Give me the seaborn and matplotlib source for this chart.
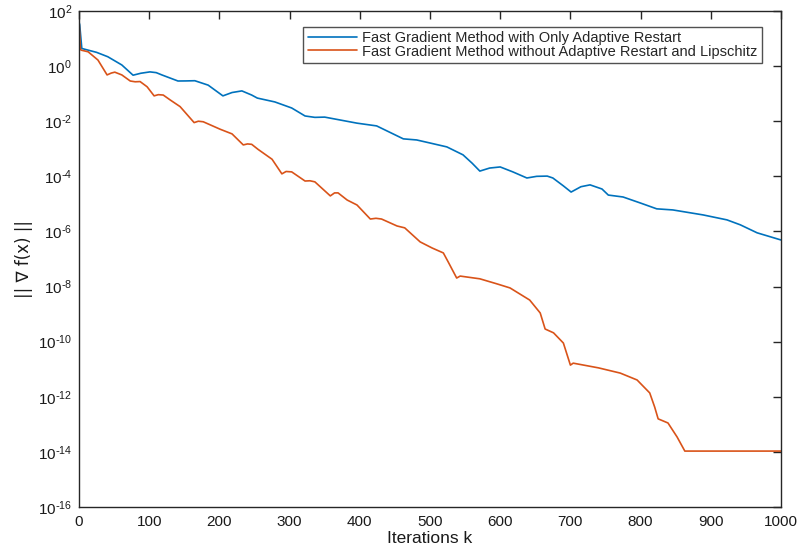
import matplotlib
matplotlib.use("Agg")
import matplotlib.pyplot as plt
import numpy as np
import pandas as pd
import seaborn as sns

# Gradient norm per iteration, fast gradient method with adaptive restart only
iters_restart = [0, 1, 4, 8.5, 25, 41, 61, 77, 88, 101, 110, 118, 141, 152, 165, 184, 205,
                 218, 232, 246, 254, 279, 303, 322, 336, 350, 396, 424, 462, 481, 500, 524,
                 547, 560, 571, 585, 600, 618, 638, 652, 667, 675, 690, 701, 715, 728, 745,
                 754, 775, 800, 823, 846, 889, 923, 942, 966, 1000]
grad_restart = [40.0, 31.6, 4.37, 4.07, 3.16, 2.19, 1.10, 0.468, 0.55, 0.617, 0.58, 0.479,
                0.288, 0.29, 0.295, 0.204, 0.0832, 0.11, 0.126, 0.0891, 0.0692, 0.0501,
                0.0302, 0.0155, 0.0138, 0.0141, 8.51e-3, 6.76e-3, 2.29e-3, 2.09e-3, 1.62e-3,
                1.17e-3, 6.03e-4, 3.0e-4, 1.55e-4, 2.0e-4, 2.19e-4, 1.45e-4, 8.71e-5,
                1.0e-4, 1.02e-4, 8.71e-5, 4.5e-5, 2.69e-5, 4.2e-5, 4.90e-5, 3.47e-5,
                2.09e-5, 1.78e-5, 1.07e-5, 6.61e-6, 6.03e-6, 3.98e-6, 2.63e-6, 1.74e-6,
                8.91e-7, 4.90e-7]

# Gradient norm per iteration, without adaptive restart and Lipschitz estimate
iters_plain = [0, 2, 3, 13, 27, 40, 46, 51, 61, 73, 80, 87, 97, 107, 113, 120, 130, 144,
               164, 170, 177, 201, 218, 234, 240, 246, 255, 275, 289, 295, 303, 322, 329,
               336, 358, 364, 369, 382, 396, 415, 423, 431, 453, 464, 486, 503, 519, 526,
               538, 543, 571, 595, 614, 642, 657, 664, 676, 690, 700, 704, 740, 771, 795,
               813, 820, 825, 839, 852, 863, 1000]
grad_plain = [46.8, 4.17, 3.80, 3.31, 1.66, 0.479, 0.56, 0.603, 0.479, 0.288, 0.27, 0.275,
              0.178, 0.0832, 0.092, 0.0891, 0.0589, 0.0339, 8.91e-3, 1.0e-2, 9.55e-3,
              5.13e-3, 3.47e-3, 1.38e-3, 1.5e-3, 1.45e-3, 9.55e-4, 4.17e-4, 1.23e-4,
              1.5e-4, 1.45e-4, 6.76e-5, 6.9e-5, 6.31e-5, 1.95e-5, 2.5e-5, 2.51e-5,
              1.38e-5, 9.12e-6, 2.82e-6, 3.0e-6, 2.82e-6, 1.58e-6, 1.35e-6, 4.17e-7,
              2.51e-7, 1.66e-7, 7.76e-8, 2.04e-8, 2.40e-8, 1.91e-8, 1.26e-8, 8.91e-9,
              3.24e-9, 1.10e-9, 2.88e-10, 2.09e-10, 8.91e-11, 1.41e-11, 1.66e-11,
              1.12e-11, 7.24e-12, 4.07e-12, 1.38e-12, 4.27e-13, 1.58e-13, 1.12e-13,
              3.47e-14, 1.07e-14, 1.07e-14]

labels = ["Fast Gradient Method with Only Adaptive Restart",
          "Fast Gradient Method without Adaptive Restart and Lipschitz"]
colors = ["#0072BD", "#D95319"]

x_ticks = list(range(0, 1001, 100))
y_tick_exps = list(range(2, -17, -2))

df = pd.concat([
    pd.DataFrame({"k": iters_restart, "g": grad_restart, "method": labels[0]}),
    pd.DataFrame({"k": iters_plain, "g": grad_plain, "method": labels[1]}),
], ignore_index=True)

sns.set_theme(style="white")
plt.rcParams["font.family"] = ["Liberation Sans", "DejaVu Sans"]
plt.rcParams["mathtext.default"] = "regular"
plt.rcParams["axes.unicode_minus"] = False


def power_label(e):
    # superscript exponent drawn with a plain hyphen for negative powers
    if e < 0:
        return f"$10^{{\\text{{-}}{-e}}}$"
    return f"$10^{{{e}}}$"


fig = plt.figure(figsize=(8.01, 5.5), dpi=100)
ax = fig.add_axes([79 / 801, 1 - 507 / 550, (781 - 79) / 801, (507 - 11) / 550])

sns.lineplot(data=df, x="k", y="g", hue="method", hue_order=labels,
             palette=colors, linewidth=1.2, ax=ax, sort=False, estimator=None)

ax.set_yscale("log")
ax.set_xlim(0, 1000)
ax.set_ylim(1e-16, 1e2)
ax.set_xticks(x_ticks)
ax.set_xticklabels([str(t) for t in x_ticks])
ax.set_yticks([10.0 ** e for e in y_tick_exps])
ax.set_yticklabels([power_label(e) for e in y_tick_exps])
ax.yaxis.set_minor_locator(matplotlib.ticker.NullLocator())

ax.tick_params(axis="both", which="major", direction="in", length=6, width=1,
               color="#262626", labelsize=11, labelcolor="#1a1a1a",
               top=True, right=True)
ax.tick_params(axis="x", pad=6)
ax.tick_params(axis="y", pad=5)
for s in ax.spines.values():
    s.set_visible(True)
    s.set_color("#262626")
    s.set_linewidth(1.0)

ax.set_xlabel("Iterations k", fontsize=12.5, color="#1a1a1a", labelpad=1)
ax.set_ylabel("|| ∇ f(x) ||", fontsize=12, color="#1a1a1a", labelpad=3,
              family=["DejaVu Sans"])

handles, _ = ax.get_legend_handles_labels()
ax.get_legend().remove()
leg = ax.legend(handles, labels, loc="upper right", bbox_to_anchor=(0.973, 0.968),
                fontsize=10.5, frameon=True, fancybox=False, shadow=False,
                handlelength=3.4, handletextpad=0.35, borderpad=0.3,
                labelspacing=-0.05, borderaxespad=0)
leg.get_frame().set_edgecolor("#262626")
leg.get_frame().set_linewidth(1.0)

fig.savefig("out.png", dpi=100)
